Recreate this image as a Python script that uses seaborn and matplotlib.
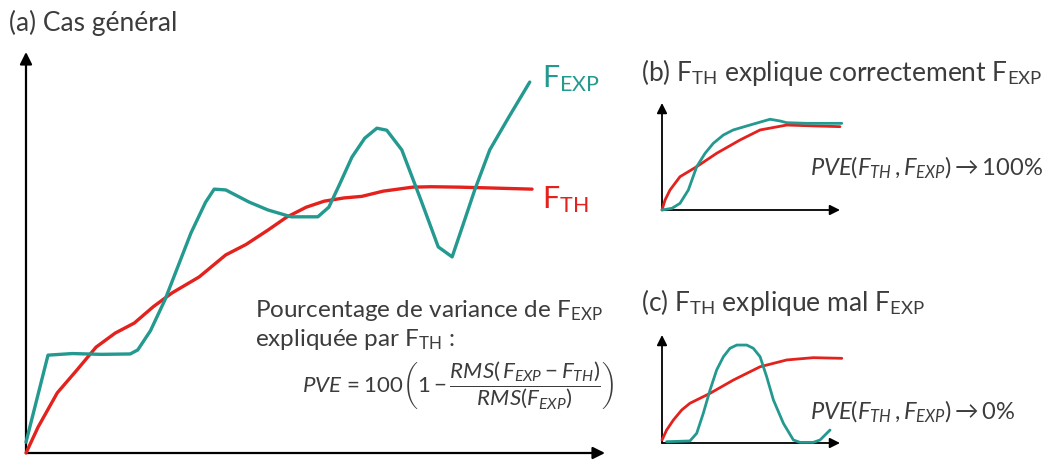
import numpy as np
import pandas as pd
import matplotlib
matplotlib.use("Agg")
import matplotlib.pyplot as plt
import seaborn as sns

# ---------------- data (units 0-100 per panel) --------
# (a) general case
a_exp_x = [0, 3.8, 8, 13, 18.0, 19.3, 21.5, 24.0, 28.5, 31, 32.5, 34.5, 38.5, 41.8,
           45.8, 50.4, 52.3, 54, 56.3, 58.5, 60.6, 62.3, 64.9, 68.2, 71.2, 73.6,
           75.5, 77.5, 80.1, 83.4, 87.0]
a_exp_y = [2.7, 24.4, 24.8, 24.6, 24.7, 25.7, 30.5, 38.2, 54.9, 62.5, 65.8, 65.6,
           62.6, 60.6, 58.9, 58.9, 61.3, 66.5, 73.8, 78.5, 81.0, 80.5, 75.6, 63.1,
           51.4, 48.9, 57.0, 65.6, 75.6, 83.8, 92.5]
a_th_x = [0, 2.1, 5.4, 8.8, 12.1, 15.4, 18.7, 22.0, 25.2, 29.9, 34.5, 38.0, 41.8,
          45.0, 48.4, 51.5, 54.9, 58.0, 61.7, 66.8, 70.0, 74.8, 80.0, 87.4]
a_th_y = [0, 6.5, 15.0, 20.7, 26.4, 29.9, 32.4, 36.5, 39.9, 43.9, 49.4, 52.0, 55.6,
          58.8, 61.3, 62.8, 63.6, 64.0, 65.3, 66.3, 66.4, 66.3, 66.1, 65.8]

# (b) F_TH explains F_EXP correctly
b_exp_x = [0, 5.6, 10.1, 14.8, 19.5, 24.2, 28.8, 34.5, 40.0, 49.4, 60.7, 66.3, 70.0,
           81.3, 101]
b_exp_y = [0, 1.6, 6.2, 18.7, 40.5, 53.0, 62.3, 70.1, 74.8, 79.4, 84.8, 83.2, 81.6,
           81.0, 81.0]
b_th_x = [0, 1.7, 4.5, 10.1, 19.5, 30.7, 43.8, 55.1, 70.1, 85.0, 100]
b_th_y = [0, 9.3, 18.7, 31.1, 40.5, 53.0, 65.4, 74.8, 79.4, 78.6, 77.9]

# (c) F_TH explains F_EXP badly
c_exp_x = [2.6, 15.7, 19.5, 23.2, 27.0, 30.7, 34.5, 38.2, 42.0, 47.6, 51.3, 55.1,
           58.8, 62.6, 68.2, 73.8, 77.5, 85.0, 88.8, 94.4]
c_exp_y = [1.2, 1.9, 9.0, 27.5, 49.1, 67.6, 79.9, 87.7, 90.7, 90.7, 87.7, 79.9,
           61.4, 39.8, 18.2, 2.8, 0.6, 0.6, 2.8, 12.0]
c_th_x = [0, 2.6, 6.4, 11.1, 15.7, 27.0, 40.1, 55.1, 70.1, 85.0, 101]
c_th_y = [2.8, 12.0, 21.3, 30.6, 36.8, 46.0, 58.3, 70.6, 76.9, 79.0, 78.4]

# text
title_a = "(a) Cas général"
title_b = r"(b) F$_{\mathrm{TH}}$ explique correctement F$_{\mathrm{EXP}}$"
title_c = r"(c) F$_{\mathrm{TH}}$ explique mal F$_{\mathrm{EXP}}$"
label_exp = r"F$_{\mathrm{EXP}}$"
label_th = r"F$_{\mathrm{TH}}$"
line1 = r"Pourcentage de variance de F$_{\mathrm{EXP}}$"
line2 = r"expliquée par F$_{\mathrm{TH}}$ :"
formula = (r"$\mathit{PVE}\,=100\left(1-\dfrac{\mathit{RMS}(\,\mathit{F}_{\mathit{EXP}}"
           r"-\mathit{F}_{\mathit{TH}})}{\mathit{RMS}(\mathit{F}_{\mathit{EXP}})}\right)$")
pve_b = r"$\mathit{PVE}(\mathit{F}_{\mathit{TH}}\,,\mathit{F}_{\mathit{EXP}})\rightarrow 100\%$"
pve_c = r"$\mathit{PVE}(\mathit{F}_{\mathit{TH}}\,,\mathit{F}_{\mathit{EXP}})\rightarrow 0\%$"

# ---------------- style ------------------------------------------------------
sns.set_theme(style="white")
plt.rcParams["font.family"] = ["Lato", "DejaVu Sans"]
plt.rcParams["mathtext.fontset"] = "custom"
plt.rcParams["mathtext.rm"] = "Lato"
plt.rcParams["mathtext.it"] = "Lato:italic"
plt.rcParams["mathtext.bf"] = "Lato:bold"

TEAL = "#23998f"
RED = "#e3211d"
TXT = "#3c3c3c"

W, H = 1053, 461
fig = plt.figure(figsize=(W / 100, H / 100), dpi=100)
fig.patch.set_facecolor("white")


def box(x0, y0, x1, y1):
    """pixel box (x0,y0 top-left ... x1,y1 bottom-right) -> axes rect"""
    return [x0 / W, 1 - y1 / H, (x1 - x0) / W, (y1 - y0) / H]


def make_axes(rect, lw, ms):
    ax = fig.add_axes(rect)
    ax.set_xlim(0, 100)
    ax.set_ylim(0, 100)
    ax.axis("off")
    ax.patch.set_alpha(0)
    for end in [(1, 0), (0, 1)]:
        ax.annotate("", xy=end, xytext=(0, 0), xycoords="axes fraction",
                    textcoords="axes fraction",
                    arrowprops=dict(arrowstyle="-|>", color="black", lw=lw,
                                    mutation_scale=ms, shrinkA=0, shrinkB=0))
    return ax


def curve(ax, xs, ys, color, lw):
    df = pd.DataFrame({"x": xs, "y": ys})
    sns.lineplot(data=df, x="x", y="y", ax=ax, color=color, lw=lw, sort=False,
                 estimator=None, clip_on=False, solid_joinstyle="round",
                 solid_capstyle="round", zorder=3)
    ax.set_xlabel("")
    ax.set_ylabel("")


# main panel
ax_a = make_axes(box(26, 52, 605, 453), 1.6, 18)
curve(ax_a, a_th_x, a_th_y, RED, 2.4)
curve(ax_a, a_exp_x, a_exp_y, TEAL, 2.4)
ax_a.axis("off")

# panel b
ax_b = make_axes(box(662, 103, 840, 210), 1.3, 15)
curve(ax_b, b_th_x, b_th_y, RED, 2.0)
curve(ax_b, b_exp_x, b_exp_y, TEAL, 2.0)
ax_b.axis("off")

# panel c
ax_c = make_axes(box(662, 335, 840, 443), 1.3, 15)
curve(ax_c, c_th_x, c_th_y, RED, 2.0)
curve(ax_c, c_exp_x, c_exp_y, TEAL, 2.0)
ax_c.axis("off")


def ptext(x, y, s, **kw):
    kw.setdefault("color", TXT)
    fig.text(x / W, 1 - y / H, s, **kw)


ptext(9, 23, title_a, fontsize=19, va="center", ha="left")
ptext(542, 79, label_exp, fontsize=22, color=TEAL, va="center", ha="left")
ptext(542, 200, label_th, fontsize=22, color=RED, va="center", ha="left")
ptext(255, 317, line1, fontsize=17.5, va="baseline", ha="left")
ptext(255, 346, line2, fontsize=17.5, va="baseline", ha="left")
ptext(302, 386, formula, fontsize=16, va="center", ha="left")
ptext(641, 73, title_b, fontsize=19, va="center", ha="left")
ptext(641, 303, title_c, fontsize=19, va="center", ha="left")
ptext(810, 168, pve_b, fontsize=17, va="center", ha="left")
ptext(810, 412, pve_c, fontsize=17, va="center", ha="left")

fig.savefig("out.png", dpi=100, facecolor="white")
